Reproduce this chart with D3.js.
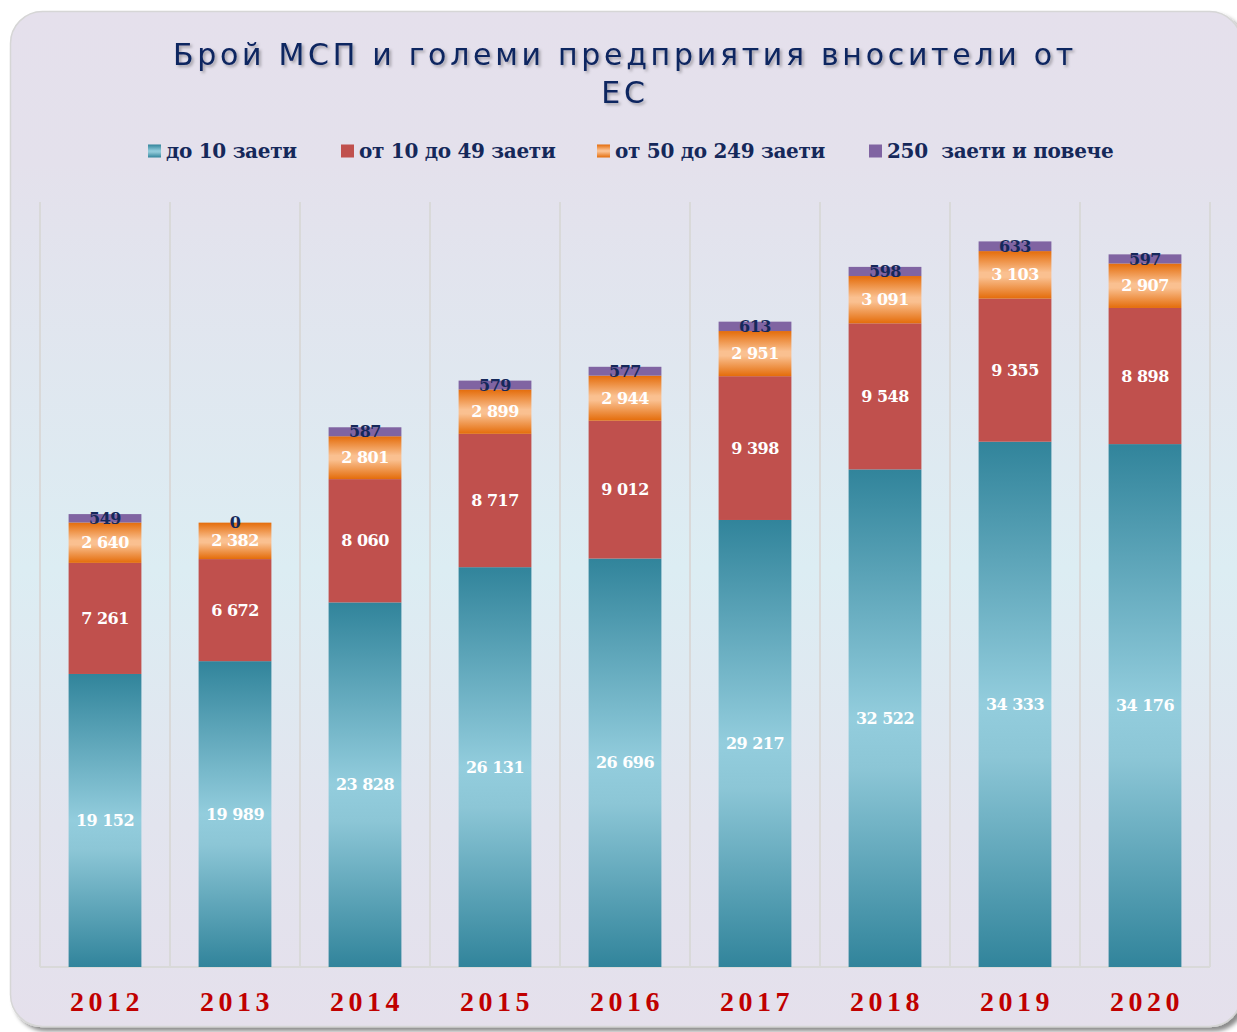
<!DOCTYPE html>
<html>
<head>
<meta charset="utf-8">
<script src="https://cdn.jsdelivr.net/npm/d3@7"></script>
<style>
  body { margin: 0; background: #ffffff; }
  svg { display: block; }
</style>
</head>
<body>
<div id="wrapper"></div>
<script>
// Data
const years = ["2012", "2013", "2014", "2015", "2016", "2017", "2018", "2019", "2020"];
const seriesNames = ["до 10 заети", "от 10 до 49 заети", "от 50 до 249 заети", "250  заети и повече"];
const micro = [19152, 19989, 23828, 26131, 26696, 29217, 32522, 34333, 34176];
const small = [7261, 6672, 8060, 8717, 9012, 9398, 9548, 9355, 8898];
const medium = [2640, 2382, 2801, 2899, 2944, 2951, 3091, 3103, 2907];
const large = [549, 0, 587, 579, 577, 613, 598, 633, 597];
const titleLines = ["Брой МСП и големи предприятия вносители от", "ЕС"];

function drawChart() {
  const keys = ["micro", "small", "medium", "large"];
  const table = years.map((y, i) => ({
    year: y, micro: micro[i], small: small[i], medium: medium[i], large: large[i],
  }));

  // dimensions
  const dimensions = {
    width: 1237,
    height: 1032,
    margin: { top: 202, right: 27, bottom: 65, left: 40 },
  };
  dimensions.boundedWidth = dimensions.width - dimensions.margin.left - dimensions.margin.right;
  dimensions.boundedHeight = dimensions.height - dimensions.margin.top - dimensions.margin.bottom;

  const svg = d3.select("#wrapper").append("svg")
      .attr("width", dimensions.width)
      .attr("height", dimensions.height);

  const defs = svg.append("defs");

  const bgGrad = defs.append("linearGradient").attr("id", "bg")
      .attr("x1", 0).attr("y1", 0).attr("x2", 0).attr("y2", 1);
  bgGrad.append("stop").attr("offset", "0%").attr("stop-color", "#e5e0ec");
  bgGrad.append("stop").attr("offset", "15%").attr("stop-color", "#e4e1ec");
  bgGrad.append("stop").attr("offset", "55%").attr("stop-color", "#dcedf3");
  bgGrad.append("stop").attr("offset", "80%").attr("stop-color", "#e2e4ee");
  bgGrad.append("stop").attr("offset", "100%").attr("stop-color", "#e5e0ec");

  const blueGrad = defs.append("linearGradient").attr("id", "blue")
      .attr("x1", 0).attr("y1", 0).attr("x2", 0).attr("y2", 1);
  blueGrad.append("stop").attr("offset", "0%").attr("stop-color", "#31849b");
  blueGrad.append("stop").attr("offset", "50%").attr("stop-color", "#93cddd");
  blueGrad.append("stop").attr("offset", "60%").attr("stop-color", "#8cc6d6");
  blueGrad.append("stop").attr("offset", "100%").attr("stop-color", "#31849b");

  const orangeGrad = defs.append("linearGradient").attr("id", "orange")
      .attr("x1", 0).attr("y1", 0).attr("x2", 0).attr("y2", 1);
  orangeGrad.append("stop").attr("offset", "0%").attr("stop-color", "#e46c0a");
  orangeGrad.append("stop").attr("offset", "45%").attr("stop-color", "#fac090");
  orangeGrad.append("stop").attr("offset", "55%").attr("stop-color", "#fac090");
  orangeGrad.append("stop").attr("offset", "100%").attr("stop-color", "#e46c0a");

  const shadow = defs.append("filter").attr("id", "tshadow")
      .attr("x", "-10%").attr("y", "-30%").attr("width", "120%").attr("height", "160%");
  shadow.append("feDropShadow").attr("dx", 2).attr("dy", 2).attr("stdDeviation", 1.5)
      .attr("flood-color", "#000").attr("flood-opacity", 0.3);

  const panelShadow = defs.append("filter").attr("id", "pshadow")
      .attr("x", "-5%").attr("y", "-5%").attr("width", "110%").attr("height", "110%");
  panelShadow.append("feDropShadow").attr("dx", 4).attr("dy", 4).attr("stdDeviation", 2)
      .attr("flood-color", "#000").attr("flood-opacity", 0.45);

  const fills = { micro: "url(#blue)", small: "#c0504d", medium: "url(#orange)", large: "#8064a2" };

  // panel
  svg.append("rect")
      .attr("x", 10.5).attr("y", 11.5)
      .attr("width", 1231).attr("height", 1015)
      .attr("rx", 32)
      .attr("fill", "url(#bg)")
      .attr("stroke", "#d6d6d6")
      .attr("stroke-width", 1.5)
      .attr("filter", "url(#pshadow)");

  // title
  svg.append("g").selectAll("text")
    .data(titleLines)
    .join("text")
      .attr("x", 625)
      .attr("y", (d, i) => 65 + i * 38)
      .attr("text-anchor", "middle")
      .attr("font-family", "'DejaVu Sans', Verdana, sans-serif")
      .attr("font-size", 30)
      .attr("letter-spacing", 3.7)
      .attr("fill", "#0f2560")
      .attr("filter", "url(#tshadow)")
      .text(d => d);

  // legend
  const legendX = [148, 341, 597, 869];
  const legend = svg.append("g").attr("transform", "translate(0,151)");
  const items = legend.selectAll("g")
    .data(keys)
    .join("g")
      .attr("transform", (d, i) => `translate(${legendX[i]},0)`);
  items.append("rect")
      .attr("x", 0).attr("y", -6.5)
      .attr("width", 13).attr("height", 13)
      .attr("fill", d => fills[d]);
  items.append("text")
      .attr("x", 18)
      .attr("y", 0)
      .attr("dy", "0.35em")
      .attr("font-family", "'DejaVu Serif', serif")
      .attr("font-weight", "bold")
      .attr("font-size", 20)
      .attr("letter-spacing", -0.3)
      .attr("fill", "#15285a")
      .style("white-space", "pre")
      .text((d, i) => seriesNames[i]);

  const bounds = svg.append("g")
      .attr("transform", `translate(${dimensions.margin.left},${dimensions.margin.top})`);

  // scales
  const xScale = d3.scaleBand()
      .domain(years)
      .range([0, dimensions.boundedWidth])
      .paddingInner(0.44)
      .paddingOuter(0.22);

  const yScale = d3.scaleLinear()
      .domain([0, 50000])
      .range([dimensions.boundedHeight, 0]);

  // grid
  const step = xScale.step();
  const gridX = years.map(y => xScale(y) - (step - xScale.bandwidth()) / 2)
      .concat([dimensions.boundedWidth]);
  bounds.append("g").selectAll("line")
    .data(gridX)
    .join("line")
      .attr("x1", d => d).attr("x2", d => d)
      .attr("y1", 0).attr("y2", dimensions.boundedHeight)
      .attr("stroke", "#d9d9d9")
      .attr("stroke-width", 2);
  bounds.append("line")
      .attr("x1", 0).attr("x2", dimensions.boundedWidth)
      .attr("y1", dimensions.boundedHeight).attr("y2", dimensions.boundedHeight)
      .attr("stroke", "#d9d9d9")
      .attr("stroke-width", 2);

  // stacked bars
  const stacked = d3.stack().keys(keys)(table);
  const fmt = d3.formatLocale({ decimal: ",", thousands: "\u00a0", grouping: [3], currency: ["", ""] }).format(",d");

  const layers = bounds.append("g").selectAll("g")
    .data(stacked)
    .join("g")
      .attr("fill", d => fills[d.key]);

  layers.selectAll("rect")
    .data(d => d)
    .join("rect")
      .attr("x", d => xScale(d.data.year))
      .attr("width", xScale.bandwidth())
      .attr("y", d => yScale(d[1]))
      .attr("height", d => yScale(d[0]) - yScale(d[1]));

  // labels
  const labels = bounds.append("g");
  stacked.forEach(layer => {
    labels.append("g").selectAll("text")
      .data(layer)
      .join("text")
        .attr("x", d => xScale(d.data.year) + xScale.bandwidth() / 2)
        .attr("y", d => (yScale(d[0]) + yScale(d[1])) / 2)
        .attr("dy", "0.35em")
        .attr("text-anchor", "middle")
        .attr("font-family", "'DejaVu Serif', serif")
        .attr("font-weight", "bold")
        .attr("font-size", 16)
        .attr("letter-spacing", -0.5)
        .attr("fill", layer.key === "large" ? "#15285a" : "#ffffff")
        .text(d => fmt(d.data[layer.key]));
  });

  // x axis labels
  bounds.append("g").selectAll("text")
    .data(years)
    .join("text")
      .attr("x", d => xScale(d) + xScale.bandwidth() / 2 + 2)
      .attr("y", dimensions.boundedHeight + 34)
      .attr("dy", "0.35em")
      .attr("text-anchor", "middle")
      .attr("font-family", "'Liberation Serif', 'DejaVu Serif', serif")
      .attr("font-weight", "bold")
      .attr("font-size", 28)
      .attr("letter-spacing", 4.5)
      .attr("fill", "#c00000")
      .text(d => d);
}
drawChart();
</script>
</body>
</html>
